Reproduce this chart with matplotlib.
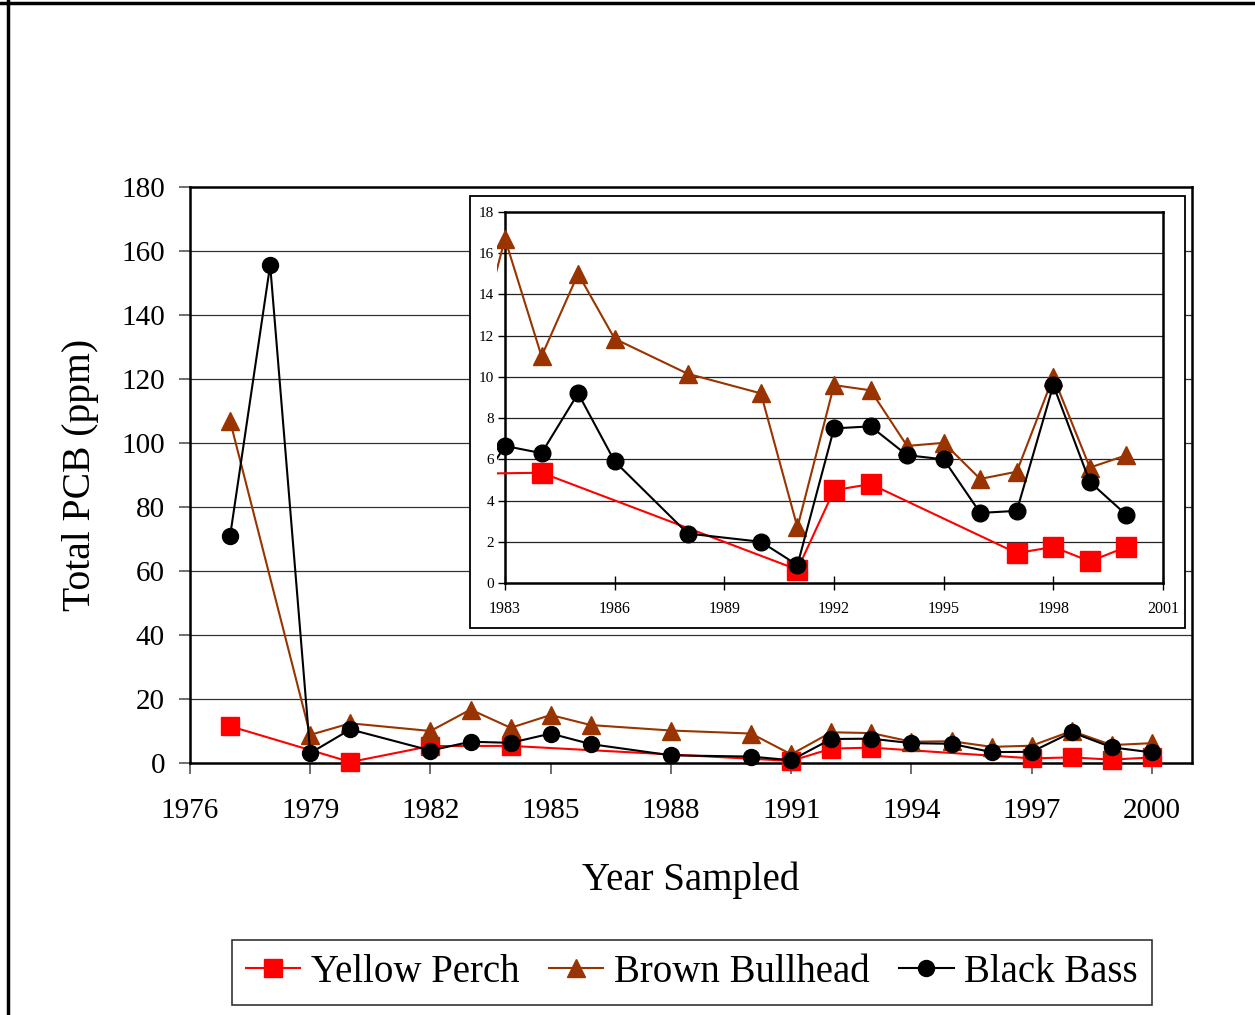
import matplotlib
matplotlib.use("Agg")
import matplotlib.pyplot as plt
from matplotlib.patches import Rectangle
from matplotlib.lines import Line2D
import numpy as np

plt.rcParams['font.family'] = ['Liberation Serif', 'DejaVu Serif']

# ---- data ----
perch_years = [1977, 1980, 1982, 1984, 1991, 1992, 1993, 1997, 1998, 1999, 2000]
perch_pcb = [11.5, 0.3, 5.3, 5.35, 0.65, 4.5, 4.8, 1.45, 1.75, 1.05, 1.75]

bullhead_years = [1977, 1979, 1980, 1982, 1983, 1984, 1985, 1986, 1988, 1990, 1991,
                  1992, 1993, 1994, 1995, 1996, 1997, 1998, 1999, 2000]
bullhead_pcb = [106.9, 8.8, 12.4, 10.0, 16.7, 11.0, 15.0, 11.85, 10.15, 9.2, 2.7,
                9.6, 9.35, 6.65, 6.8, 5.05, 5.4, 10.0, 5.6, 6.2]

bass_years = [1977, 1978, 1979, 1980, 1982, 1983, 1984, 1985, 1986, 1988, 1990, 1991,
              1992, 1993, 1994, 1995, 1996, 1997, 1998, 1999, 2000]
bass_pcb = [70.9, 155.6, 3.1, 10.5, 3.9, 6.65, 6.3, 9.2, 5.9, 2.4, 2.0, 0.87,
            7.5, 7.6, 6.2, 6.0, 3.4, 3.5, 9.6, 4.9, 3.3]

series_names = ["Yellow Perch", "Brown Bullhead", "Black Bass"]
main_xticks = list(range(1976, 2001, 3))
inset_xticks = list(range(1983, 2002, 3))

RED = "#FF0000"
BROWN = "#993300"
BLACK = "#000000"

W, H = 1255, 1015
fig = plt.figure(figsize=(W / 100, H / 100), dpi=100)

def fx(px):
    return px / W

def fy(py):
    return 1 - py / H

# ---- main axes ----
ax = fig.add_axes([fx(190), fy(763), fx(1192) - fx(190), fy(187) - fy(763)])
ax.set_xlim(1976, 2001)
ax.set_ylim(0, 180)
ax.set_yticks(np.arange(0, 181, 20))
ax.set_xticks(main_xticks)
ax.tick_params(axis='both', labelsize=21, direction='out', length=8, width=1.2, color='#555555')
ax.tick_params(axis='y', pad=10)
ax.tick_params(axis='x', pad=17)
for y in range(20, 180, 20):
    ax.axhline(y, color='#333333', lw=0.9, zorder=0.5)
for s in ax.spines.values():
    s.set_linewidth(1.8)
    s.set_color('black')

styles = [
    dict(color=RED, marker='s', markersize=13),
    dict(color=BROWN, marker='^', markersize=12.5),
    dict(color=BLACK, marker='o', markersize=11.5),
]
datasets = [(perch_years, perch_pcb), (bullhead_years, bullhead_pcb), (bass_years, bass_pcb)]

handles = []
for (xs, ys), st, name in zip(datasets, styles, series_names):
    h, = ax.plot(xs, ys, lw=1.5, color=st['color'], marker=st['marker'],
                 markersize=st['markersize'], markerfacecolor=st['color'],
                 markeredgecolor=st['color'], label=name, clip_on=False, zorder=3)
    handles.append(h)

ax.set_xlabel("Year Sampled", fontsize=28, labelpad=27)
ax.set_ylabel("Total PCB (ppm)", fontsize=28.5, labelpad=16)

# ---- inset frame ----
frame = Rectangle((fx(470), fy(628)), fx(1185) - fx(470), fy(196) - fy(628),
                  transform=fig.transFigure, facecolor='white', edgecolor='black',
                  lw=1.3, zorder=1)
fig.patches.append(frame)

# ---- inset axes ----
ax2 = fig.add_axes([fx(505), fy(583), fx(1163) - fx(505), fy(212) - fy(583)], zorder=2)
ax2.set_xlim(1983, 2001)
ax2.set_ylim(0, 18)
ax2.set_yticks(np.arange(0, 19, 2))
ax2.set_xticks(inset_xticks)
ax2.tick_params(axis='y', labelsize=11, direction='out', length=5, width=1.0, pad=3)
ax2.tick_params(axis='x', labelsize=11.5, direction='inout', length=10, width=1.0, pad=8)
for y in range(2, 18, 2):
    ax2.axhline(y, color='#222222', lw=0.9, zorder=0.5)
for s in ax2.spines.values():
    s.set_linewidth(1.8)
    s.set_color('black')

clip = Rectangle((-0.012, -0.05), 1.06, 1.1, transform=ax2.transAxes,
                 facecolor='none', edgecolor='none')
inset_styles = [
    dict(color=RED, marker='s', markersize=14),
    dict(color=BROWN, marker='^', markersize=12.5),
    dict(color=BLACK, marker='o', markersize=12),
]
for (xs, ys), st in zip(datasets, inset_styles):
    xs = np.array(xs)
    ys = np.array(ys)
    m = xs >= 1982
    ln, = ax2.plot(xs[m], ys[m], lw=1.5, color=st['color'], marker=st['marker'],
                   markersize=st['markersize'], markerfacecolor=st['color'],
                   markeredgecolor=st['color'], zorder=3)
    ln.set_clip_path(clip)

# ---- legend ----
leg = fig.legend(handles=handles, labels=series_names, loc='center',
                 bbox_to_anchor=(fx(692), fy(972)), ncol=3, fontsize=28,
                 frameon=True, fancybox=False, edgecolor='black',
                 handlelength=1.4, handletextpad=0.28, columnspacing=0.75,
                 borderpad=0.36, borderaxespad=0, markerscale=1.0)
leg.get_frame().set_linewidth(1.2)

# ---- figure border (top & left) ----
fig.add_artist(Line2D([fx(8), fx(8)], [0, 1], transform=fig.transFigure, color='black', lw=2.5))
fig.add_artist(Line2D([0, 1], [fy(3), fy(3)], transform=fig.transFigure, color='black', lw=2.5))

fig.savefig("out.png", dpi=100)
